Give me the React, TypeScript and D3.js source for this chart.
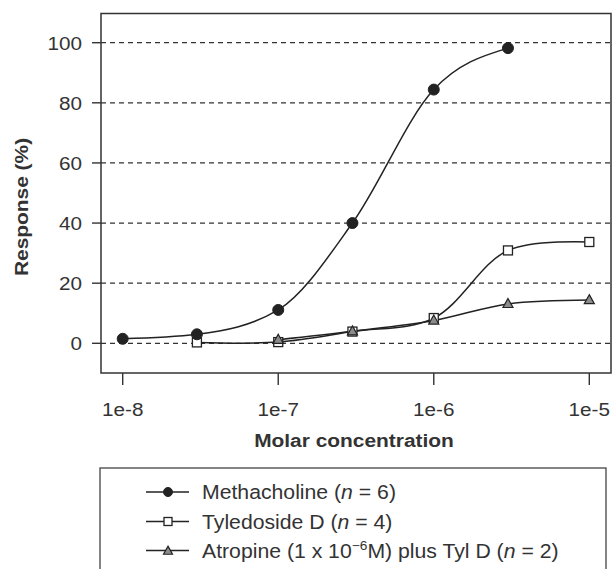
import React from "react";
import * as d3 from "d3";

const concentrations = [1e-8, 3e-8, 1e-7, 3e-7, 1e-6, 3e-6, 1e-5];
const methacholineX = [1e-8, 3e-8, 1e-7, 3e-7, 1e-6, 3e-6];
const methacholineY = [1.5, 3.0, 11.1, 40.0, 84.4, 98.2];
const tyledosideX = [3e-8, 1e-7, 3e-7, 1e-6, 3e-6, 1e-5];
const tyledosideY = [0.3, 0.4, 3.9, 8.4, 30.9, 33.7];
const atropineX = [1e-7, 3e-7, 1e-6, 3e-6, 1e-5];
const atropineY = [1.2, 4.0, 7.6, 13.1, 14.4];
const xTicks = [1e-8, 1e-7, 1e-6, 1e-5];
const xTickLabels = ["1e-8", "1e-7", "1e-6", "1e-5"];
const yTicks = [0, 20, 40, 60, 80, 100];

const W = 612;
const H = 569;
const frame = { left: 101, top: 13.5, right: 611, bottom: 373 };
const INK = "#222";
const TXT = "#333";
const FONT = "'Liberation Sans', Arial, Helvetica, sans-serif";
const SX = 1.1;

const x = d3.scaleLog().domain([1e-8, 1e-5]).range([122.7, 589.3]);
const y = d3.scaleLinear().domain([0, 100]).range([343.3, 42.7]);

type P = [number, number];
const zip = (xs: number[], ys: number[]): P[] => xs.map((v, i) => [x(v), y(ys[i])]);

const lineMono = d3.line<P>().x(d => d[0]).y(d => d[1]).curve(d3.curveMonotoneX);
const lineCR = d3.line<P>().x(d => d[0]).y(d => d[1]).curve(d3.curveCatmullRom.alpha(0.5));

function T(props: { x: number; y: number; anchor?: string; bold?: boolean; size?: number; rotate?: number; children: React.ReactNode }) {
  const { anchor = "start", bold = false, size = 18.8, rotate = 0 } = props;
  const tr = rotate
    ? `translate(${props.x},${props.y}) rotate(${rotate}) scale(${SX},1)`
    : `translate(${props.x},${props.y}) scale(${SX},1)`;
  return (
    <text transform={tr} textAnchor={anchor} fontFamily={FONT} fontSize={size} fontWeight={bold ? "bold" : "normal"} fill={TXT}>
      {props.children}
    </text>
  );
}

function Circle({ cx, cy, r = 5.5 }: { cx: number; cy: number; r?: number }) {
  return <circle cx={cx} cy={cy} r={r} fill="#222" stroke="#222" strokeWidth={1} />;
}
function Square({ cx, cy, s = 9 }: { cx: number; cy: number; s?: number }) {
  return <rect x={cx - s / 2} y={cy - s / 2} width={s} height={s} fill="#fff" stroke="#222" strokeWidth={1.3} />;
}
function Tri({ cx, cy, s = 10 }: { cx: number; cy: number; s?: number }) {
  const h = s * 0.9;
  const pts = `${cx},${cy - h * 0.6} ${cx + s / 2},${cy + h * 0.4} ${cx - s / 2},${cy + h * 0.4}`;
  return <polygon points={pts} fill="#8c8c8c" stroke="#222" strokeWidth={1.2} strokeLinejoin="miter" />;
}

export default function App() {
  const mPts = zip(methacholineX, methacholineY);
  const tPts = zip(tyledosideX, tyledosideY);
  const aPts = zip(atropineX, atropineY);
  void concentrations;

  const legendRows = [492, 521.5, 550.5];
  const legX0 = 146, legX1 = 189, legM = 168, legT = 202;
  const LS = 19.3;

  return (
    <svg width={W} height={H} style={{ position: "absolute", left: 0, top: 0, background: "#fff" }}>
      <rect x={0} y={0} width={W} height={H} fill="#fff" />
      {yTicks.map(t => (
        <line key={"g" + t} x1={frame.left} x2={frame.right} y1={y(t)} y2={y(t)} stroke="#333" strokeWidth={1.3} strokeDasharray="5,4" />
      ))}
      <rect x={frame.left} y={frame.top} width={frame.right - frame.left} height={frame.bottom - frame.top} fill="none" stroke="#333" strokeWidth={1.5} />
      {yTicks.map(t => (
        <g key={"y" + t}>
          <line x1={92} x2={frame.left} y1={y(t)} y2={y(t)} stroke="#333" strokeWidth={1.4} />
          <T x={82} y={y(t) + 6.8} anchor="end">{String(t)}</T>
        </g>
      ))}
      {xTicks.map((t, i) => (
        <g key={"x" + i}>
          <line x1={x(t)} x2={x(t)} y1={frame.bottom} y2={frame.bottom + 12} stroke="#333" strokeWidth={1.4} />
          <T x={x(t)} y={415.5} anchor="middle">{xTickLabels[i]}</T>
        </g>
      ))}
      <T x={354} y={446.5} anchor="middle" bold size={19}>Molar concentration</T>
      <T x={28} y={207} anchor="middle" bold size={19} rotate={-90}>Response (%)</T>

      <path d={lineCR(aPts) || ""} fill="none" stroke={INK} strokeWidth={1.5} />
      <path d={lineCR(tPts) || ""} fill="none" stroke={INK} strokeWidth={1.5} />
      <path d={lineMono(mPts) || ""} fill="none" stroke={INK} strokeWidth={1.5} />
      {tPts.map((p, i) => <Square key={"s" + i} cx={p[0]} cy={p[1]} />)}
      {aPts.map((p, i) => <Tri key={"a" + i} cx={p[0]} cy={p[1]} />)}
      {mPts.map((p, i) => <Circle key={"c" + i} cx={p[0]} cy={p[1]} />)}

      <rect x={100} y={468} width={506} height={120} fill="none" stroke="#444" strokeWidth={1.3} />
      {legendRows.map((ly, i) => (
        <line key={"ll" + i} x1={legX0} x2={legX1} y1={ly} y2={ly} stroke={INK} strokeWidth={1.5} />
      ))}
      <Circle cx={legM} cy={legendRows[0]} r={4.5} />
      <Square cx={legM} cy={legendRows[1]} s={8} />
      <Tri cx={legM} cy={legendRows[2] + 0.5} s={9} />
      <T x={legT} y={legendRows[0] + 7} size={LS}>
        Methacholine (<tspan fontStyle="italic">n</tspan> = 6)
      </T>
      <T x={legT} y={legendRows[1] + 7} size={LS}>
        Tyledoside D (<tspan fontStyle="italic">n</tspan> = 4)
      </T>
      <T x={legT} y={legendRows[2] + 7} size={LS}>
        Atropine (1 x 10<tspan dy={-7.5} fontSize={12.5}>−6</tspan><tspan dy={7.5}>M) plus Tyl D (</tspan><tspan fontStyle="italic">n</tspan> = 2)
      </T>
    </svg>
  );
}
